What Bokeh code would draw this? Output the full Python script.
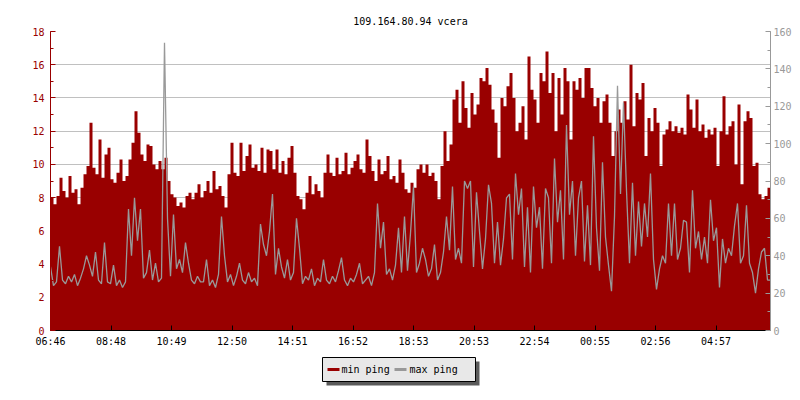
from bokeh.plotting import figure
from bokeh.layouts import column
from bokeh.models import (Range1d, LinearAxis, FixedTicker, SingleIntervalTicker,
                          ColumnDataSource, Grid)
from bokeh.core.properties import value
from bokeh.embed import file_html
from bokeh.resources import INLINE

TITLE = "109.164.80.94 vcera"
TIME_LABELS = ["06:46", "08:48", "10:49", "12:50", "14:51", "16:52",
               "18:53", "20:53", "22:54", "00:55", "02:56", "04:57"]
LABEL_STEP_MIN = 121
SAMPLE_MIN = 6
SPAN_MIN = 1440
SERIES_NAMES = ["min ping", "max ping"]

# min ping (left axis, ms), one value per 6 minutes
MIN_PING = [
    8.0, 7.6, 8.1, 9.2, 8.4, 8.0, 9.3, 8.3, 8.5, 7.6,
    8.6, 9.4, 9.9, 12.5, 9.8, 9.4, 11.5, 9.2, 10.6, 11.0,
    9.1, 8.9, 9.5, 10.3, 9.0, 9.3, 10.3, 11.3, 13.2, 11.9,
    10.6, 10.2, 11.2, 11.1, 10.0, 9.7, 10.2, 9.7, 10.4, 9.0,
    8.2, 8.0, 7.5, 7.7, 7.4, 8.1, 8.3, 7.9, 8.3, 8.8,
    8.0, 8.4, 9.0, 8.3, 9.6, 8.5, 8.7, 8.1, 7.4, 9.4,
    11.3, 9.5, 9.3, 11.3, 9.6, 10.5, 11.2, 9.8, 10.0, 9.6,
    11.0, 9.5, 10.9, 10.8, 9.7, 10.9, 9.5, 10.2, 9.4, 10.4,
    11.1, 9.5, 8.1, 7.9, 7.3, 8.3, 9.3, 8.2, 8.8, 8.4,
    8.0, 9.5, 10.6, 9.5, 9.3, 10.4, 9.4, 9.6, 10.7, 9.4,
    9.8, 10.2, 10.6, 9.7, 9.5, 11.5, 10.5, 9.6, 9.0, 10.3,
    9.4, 9.6, 10.5, 9.1, 9.3, 8.9, 10.3, 9.5, 8.5, 8.3,
    8.9, 8.6, 9.7, 10.0, 9.5, 10.0, 9.3, 9.5, 9.0, 7.9,
    9.9, 12.0, 10.2, 11.2, 13.9, 14.5, 12.5, 15.0, 13.4, 12.2,
    14.3, 13.0, 13.6, 15.2, 15.0, 15.8, 14.8, 13.3, 12.5, 10.4,
    14.0, 13.5, 14.7, 15.5, 14.0, 12.0, 12.5, 13.5, 11.5, 16.5,
    14.5, 13.9, 12.5, 15.5, 15.0, 16.8, 14.3, 15.5, 12.0, 15.2,
    13.0, 15.8, 15.0, 11.5, 15.0, 14.5, 15.2, 14.0, 15.8, 15.8,
    14.6, 13.5, 14.0, 12.5, 13.8, 14.2, 12.5, 10.5, 12.0, 13.3,
    12.5, 13.8, 12.7, 16.0, 12.3, 14.3, 13.9, 14.9, 10.5, 12.8,
    12.0, 13.4, 12.5, 9.9, 11.8, 12.1, 12.6, 12.0, 12.3, 11.9,
    12.2, 11.8, 14.2, 13.3, 12.2, 13.9, 12.0, 12.4, 11.6, 12.1,
    11.8, 12.2, 9.9, 12.0, 14.1, 11.8, 12.3, 12.6, 10.0, 13.6,
    8.8, 12.6, 13.2, 12.8, 9.9, 10.1, 8.2, 7.9, 8.1, 8.6,
]

# max ping (right axis, ms), one value per 6 minutes
MAX_PING = [
    34, 24, 26, 45, 27, 25, 29, 26, 30, 24,
    28, 33, 40, 35, 29, 42, 27, 25, 47, 26,
    25, 35, 24, 27, 23, 26, 65, 40, 71, 48,
    65, 28, 31, 43, 27, 36, 26, 28, 154, 60,
    29, 62, 33, 38, 31, 47, 36, 27, 25, 29,
    26, 26, 38, 24, 27, 23, 30, 61, 40, 26,
    30, 24, 29, 36, 27, 25, 31, 26, 28, 24,
    57, 46, 40, 53, 73, 30, 44, 34, 28, 38,
    27, 31, 60, 44, 25, 29, 27, 33, 24, 28,
    26, 38, 27, 25, 29, 26, 32, 39, 27, 24,
    28, 26, 30, 36, 25, 27, 29, 24, 31, 68,
    44, 58, 30, 33, 27, 35, 55, 31, 61, 32,
    52, 77, 31, 36, 44, 38, 29, 33, 46, 27,
    31, 42, 61, 43, 77, 38, 44, 36, 80, 76,
    80, 34, 74, 53, 33, 49, 78, 68, 36, 58,
    35, 49, 71, 73, 38, 84, 62, 76, 34, 66,
    31, 77, 55, 66, 33, 76, 71, 36, 92, 58,
    75, 38, 110, 62, 80, 40, 71, 80, 37, 67,
    35, 104, 55, 32, 90, 50, 35, 21, 61, 131,
    73, 122, 75, 36, 79, 40, 69, 45, 68, 50,
    84, 38, 22, 33, 40, 36, 68, 40, 68, 38,
    44, 59, 58, 31, 75, 44, 53, 38, 50, 36,
    70, 48, 55, 23, 49, 36, 44, 40, 56, 68,
    36, 40, 67, 36, 31, 20, 33, 42, 44, 27,
]

FONT = "DejaVu Sans Mono"
RED = "#990000"
GRAY = "#999999"

n = len(MIN_PING)
t = [SAMPLE_MIN * i for i in range(n)] + [SPAN_MIN]
src = ColumnDataSource(dict(t=t, lo=MIN_PING + [MIN_PING[-1]], hi=MAX_PING + [MAX_PING[-1]]))

p = figure(frame_width=720, frame_height=299, height=352, output_backend="svg",
           toolbar_location=None,
           x_range=Range1d(0, SPAN_MIN), y_range=Range1d(0, 18),
           min_border_left=50, min_border_right=22, min_border_top=31, min_border_bottom=22,
           x_axis_type=None, y_axis_type=None, title=TITLE)
p.extra_y_ranges = {"right": Range1d(0, 160)}
p.outline_line_color = None
p.background_fill_color = "white"
p.border_fill_color = "white"

p.title.text_font = FONT
p.title.text_font_size = "10px"
p.title.text_font_style = "normal"
p.title.align = "center"
p.title.text_color = "black"

left_ticker = SingleIntervalTicker(interval=2, num_minor_ticks=2)
ly = LinearAxis(ticker=left_ticker)
ly.axis_line_color = RED
ly.major_tick_line_color = RED
ly.minor_tick_line_color = RED
ly.major_label_text_color = RED
ly.major_tick_in = 5
ly.major_tick_out = 0
ly.minor_tick_in = 3
ly.minor_tick_out = 0
ly.major_label_standoff = 6
ly.major_label_text_font = FONT
ly.major_label_text_font_size = "10px"
p.add_layout(ly, "left")

ry = LinearAxis(y_range_name="right", ticker=SingleIntervalTicker(interval=20, num_minor_ticks=2))
ry.axis_line_color = GRAY
ry.major_tick_line_color = GRAY
ry.minor_tick_line_color = GRAY
ry.major_label_text_color = GRAY
ry.major_tick_in = 5
ry.major_tick_out = 0
ry.minor_tick_in = 3
ry.minor_tick_out = 0
ry.major_label_standoff = 3
ry.major_label_text_font = FONT
ry.major_label_text_font_size = "10px"
p.add_layout(ry, "right")

xticks = [LABEL_STEP_MIN * k for k in range(len(TIME_LABELS))]
xa = LinearAxis(ticker=FixedTicker(ticks=xticks),
                major_label_overrides={tk: lab for tk, lab in zip(xticks, TIME_LABELS)})
xa.axis_line_color = "black"
xa.major_tick_line_color = "black"
xa.minor_tick_line_color = None
xa.major_tick_in = 5
xa.major_tick_out = 0
xa.major_label_standoff = 5
xa.major_label_text_font = FONT
xa.major_label_text_font_size = "10px"
xa.major_label_text_color = "black"
p.add_layout(xa, "below")

p.add_layout(Grid(dimension=1, ticker=left_ticker, grid_line_color="#c0c0c0", grid_line_width=1))

p.varea_step(x="t", y1=0, y2="lo", step_mode="after", source=src, fill_color=RED)
p.line(x="t", y="hi", source=src, line_color=GRAY, line_width=1.3,
       y_range_name="right")

# ---- legend strip: its frame is aligned with the chart frame, so use page x ----
LH = 38
leg = figure(frame_width=720, frame_height=LH, output_backend="svg", toolbar_location=None,
             x_range=Range1d(50, 770), y_range=Range1d(0, LH),
             min_border_left=50, min_border_right=22, min_border_top=0, min_border_bottom=0,
             x_axis_type=None, y_axis_type=None)
leg.outline_line_color = None
leg.grid.visible = False
leg.background_fill_color = "white"
leg.border_fill_color = "white"

# shadow, then box
leg.quad(left=[326], right=[479], bottom=[5], top=[29], fill_color="#5a5a5a", line_color=None)
leg.quad(left=[322], right=[475], bottom=[9], top=[33], fill_color="#e8e8e8",
         line_color="black", line_width=1)
leg.segment(x0=[327, 394], y0=[21, 21], x1=[339, 406], y1=[21, 21],
            line_color=[RED, GRAY], line_width=3)
leg.text(x=[341, 409], y=[21, 21], text=SERIES_NAMES, text_font=value(FONT),
         text_font_size="10px", text_baseline="middle", text_align="left",
         text_color="black")

layout = column(p, leg, spacing=0)
open("out.html", "w").write(file_html(layout, INLINE))
